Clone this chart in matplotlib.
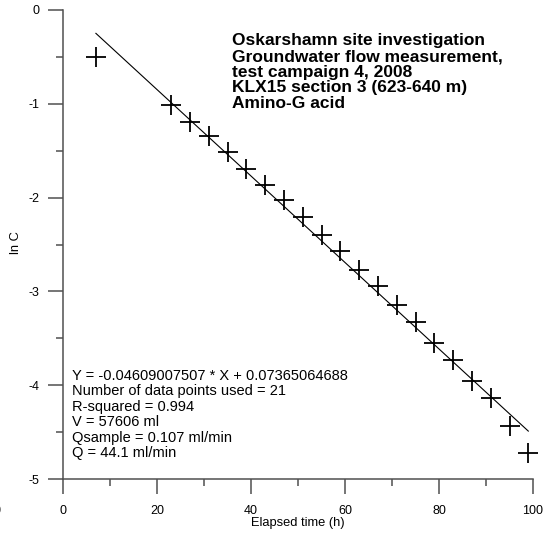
import matplotlib
matplotlib.use("Agg")
import matplotlib.pyplot as plt
from matplotlib.ticker import MultipleLocator

plt.rcParams['font.family'] = ['Liberation Sans', 'DejaVu Sans']
plt.rcParams['axes.unicode_minus'] = False

# Elapsed time (h) and ln of tracer concentration
elapsed_h = [7, 23, 27, 31, 35, 39, 43, 47, 51, 55, 59, 63, 67, 71, 75, 79, 83, 87, 91, 95, 99]
ln_c = [-0.50, -1.01, -1.19, -1.34, -1.51, -1.70, -1.87, -2.03, -2.21, -2.40, -2.57,
        -2.77, -2.94, -3.15, -3.33, -3.55, -3.73, -3.96, -4.14, -4.43, -4.72]

# Linear regression result
slope = -0.04609007507
intercept = 0.07365064688
fit_x = [7, 99]

title_lines = [
    "Oskarshamn site investigation",
    "Groundwater flow measurement,",
    "test campaign 4, 2008",
    "KLX15 section 3 (623-640 m)",
    "Amino-G acid",
]
stats_lines = [
    "Y = -0.04609007507 * X + 0.07365064688",
    "Number of data points used = 21",
    "R-squared = 0.994",
    "V = 57606 ml",
    "Qsample = 0.107 ml/min",
    "Q = 44.1 ml/min",
]

W, H = 550, 535
fig = plt.figure(figsize=(W / 100, H / 100), dpi=100)
ax = fig.add_axes([63 / W, 1 - 479 / H, (533 - 63) / W, (479 - 10) / H])

ax.plot(elapsed_h, ln_c, linestyle='none', marker='+', markersize=14,
        markeredgewidth=1.3, color='black', clip_on=False)
ax.plot(fit_x, [slope * x + intercept for x in fit_x], color='black', linewidth=0.8)

ax.set_xlim(0, 100)
ax.set_ylim(-5, 0)
ax.xaxis.set_major_locator(MultipleLocator(20))
ax.xaxis.set_minor_locator(MultipleLocator(10))
ax.yaxis.set_major_locator(MultipleLocator(1))
ax.yaxis.set_minor_locator(MultipleLocator(0.5))

for side in ('top', 'right'):
    ax.spines[side].set_visible(False)
axis_col = '#505050'
for side in ('left', 'bottom'):
    ax.spines[side].set_color(axis_col)
    ax.spines[side].set_linewidth(1.1)

ax.tick_params(which='major', direction='out', length=11, width=1.1, color=axis_col,
               labelsize=9, labelcolor='black')
ax.tick_params(which='minor', direction='out', length=5, width=1.1, color=axis_col)
ax.tick_params(axis='x', which='major', pad=8)
ax.tick_params(axis='y', which='major', pad=6)

ax.set_xlabel("Elapsed time (h)", fontsize=9.3, labelpad=0)
fig.text(16 / W, 1 - 243 / H, "ln C", fontsize=9.3, rotation=90, ha='center', va='center')

# Title block
for i, line in enumerate(title_lines):
    fig.text(232 / W, 1 - (41 + i * 15.6) / H, line, fontsize=12.5, fontweight='bold',
             ha='left', va='center')

# Regression statistics
for i, line in enumerate(stats_lines):
    fig.text(72 / W, 1 - (376 + i * 15.4) / H, line, fontsize=10.5, ha='left', va='center')

fig.text(-3 / W, 1 - 511 / H, "0", fontsize=9, ha='center', va='center')

fig.savefig("out.png", dpi=100)
